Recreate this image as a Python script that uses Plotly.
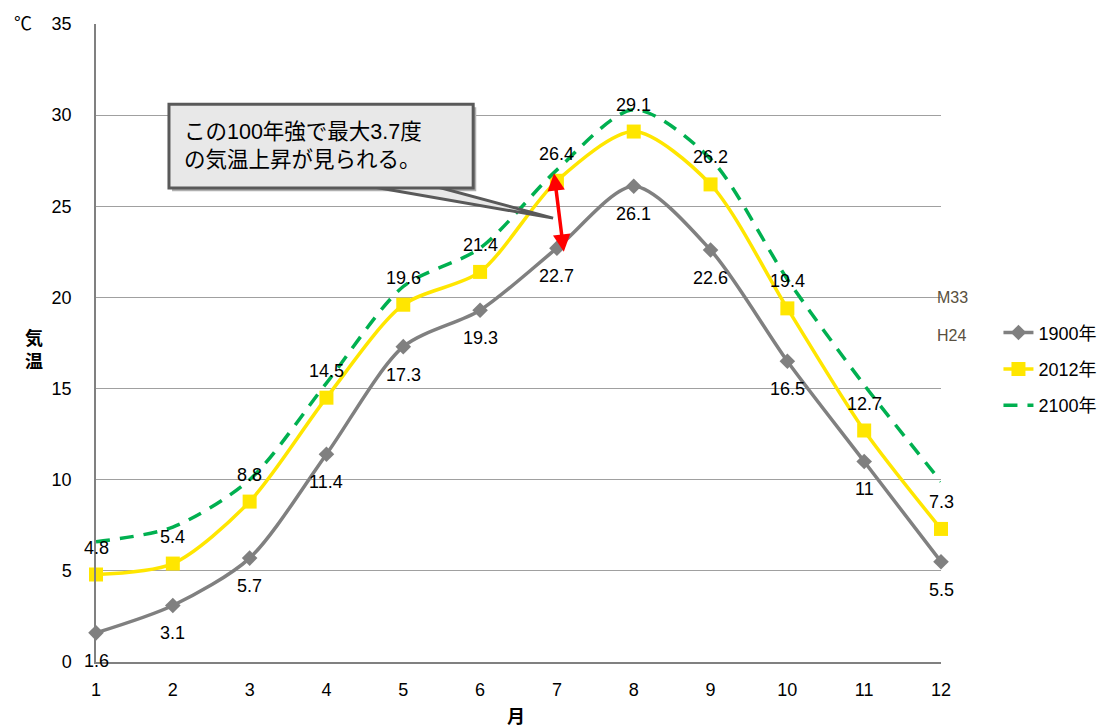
import plotly.graph_objects as go

months = [1, 2, 3, 4, 5, 6, 7, 8, 9, 10, 11, 12]
t1900 = [1.6, 3.1, 5.7, 11.4, 17.3, 19.3, 22.7, 26.1, 22.6, 16.5, 11, 5.5]
t2012 = [4.8, 5.4, 8.8, 14.5, 19.6, 21.4, 26.4, 29.1, 26.2, 19.4, 12.7, 7.3]
t2100 = [6.6, 7.4, 10.0, 15.3, 20.6, 22.7, 27.0, 30.3, 27.6, 21.0, 15.2, 9.9]
y_ticks = [0, 5, 10, 15, 20, 25, 30, 35]

FONT = "Liberation Sans, Arial, Noto Sans CJK JP, sans-serif"

fig = go.Figure()

fig.add_trace(go.Scatter(
    x=months, y=t1900, name="1900年", mode="lines+markers",
    line=dict(color="#808080", width=3.5, shape="spline", smoothing=0.8),
    marker=dict(symbol="diamond", size=12, color="#808080"),
    cliponaxis=False, legendgroup="a",
))
fig.add_trace(go.Scatter(
    x=months, y=t2012, name="2012年", mode="lines+markers",
    line=dict(color="#FFE600", width=3.5, shape="spline", smoothing=0.8),
    marker=dict(symbol="square", size=14, color="#FFE600"),
    cliponaxis=False, legendgroup="b",
))
fig.add_trace(go.Scatter(
    x=months, y=t2100, name="2100年", mode="lines",
    line=dict(color="#00B050", width=3.5, dash="14px,10px", shape="spline", smoothing=0.8),
    cliponaxis=False, legendgroup="c",
))

# data labels
for m, v in zip(months, t1900):
    fig.add_annotation(x=m, y=v, text=str(v), showarrow=False, yshift=-28,
                       xanchor="center", yanchor="middle",
                       font=dict(size=18, color="#000000", family=FONT))
for m, v in zip(months, t2012):
    fig.add_annotation(x=m, y=v, text=str(v), showarrow=False, yshift=27,
                       xanchor="center", yanchor="middle",
                       font=dict(size=18, color="#000000", family=FONT))

# callout: shadow, pointer, box
box_x0, box_x1, box_y0, box_y1 = 1.95, 5.91, 26.0, 30.6
tip_x, tip_y = 6.95, 24.35
fig.add_shape(type="rect", x0=box_x0 + 0.04, x1=box_x1 + 0.04, y0=box_y0 - 0.17, y1=box_y1 - 0.17,
              fillcolor="#b0b0b0", line=dict(width=0), layer="above")
fig.add_shape(type="path",
              path=f"M 4.28 {box_y0 + 0.3} L {tip_x} {tip_y} L 5.23 {box_y0 + 0.3} Z",
              fillcolor="#e8e8e8", line=dict(color="#595959", width=3), layer="above")
fig.add_shape(type="rect", x0=box_x0, x1=box_x1, y0=box_y0, y1=box_y1,
              fillcolor="#e8e8e8", line=dict(color="#595959", width=3), layer="above")
fig.add_annotation(x=box_x0, y=(box_y0 + box_y1) / 2,
                   text="この100年強で最大3.7度<br>の気温上昇が見られる。",
                   showarrow=False, align="left", xanchor="left", yanchor="middle", xshift=13,
                   font=dict(size=21.5, color="#000000", family=FONT))

# red double arrow
fig.add_annotation(x=7.09, y=22.5, ax=6.96, ay=26.9, xref="x", yref="y", axref="x", ayref="y",
                   text="", showarrow=True, arrowhead=2, startarrowhead=2, arrowside="end+start",
                   arrowwidth=3.5, arrowsize=1.0, startarrowsize=1.0, arrowcolor="#FF0000")

# side labels
fig.add_annotation(x=1.0, y=20, xref="paper", yref="y", text="M33", showarrow=False,
                   xanchor="left", xshift=-6, font=dict(size=16, color="#595040", family=FONT))
fig.add_annotation(x=1.0, y=17.9, xref="paper", yref="y", text="H24", showarrow=False,
                   xanchor="left", xshift=-6, font=dict(size=16, color="#595040", family=FONT))

# unit and axis titles
fig.add_annotation(x=0, y=1, xref="paper", yref="paper", text="℃", showarrow=False,
                   xanchor="left", yanchor="middle", xshift=-84, font=dict(size=18, color="#000", family=FONT))
fig.add_annotation(x=0, y=0.5, xref="paper", yref="paper", text="<b>気<br>温</b>", showarrow=False,
                   xanchor="center", yanchor="middle", xshift=-62, yshift=-7,
                   font=dict(size=18, color="#000", family=FONT))
fig.add_annotation(x=0.5, y=0, xref="paper", yref="paper", text="<b>月</b>", showarrow=False,
                   xanchor="center", yanchor="middle", yshift=-55, xshift=-3,
                   font=dict(size=18, color="#000", family=FONT))

fig.update_layout(
    width=1114, height=727,
    margin=dict(l=88, r=181, t=16, b=73, autoexpand=False),
    paper_bgcolor="white", plot_bgcolor="white",
    font=dict(family=FONT, size=18, color="#000000"),
    showlegend=True,
    legend=dict(x=1.068, y=0.545, xanchor="left", yanchor="top", traceorder="grouped",
                tracegroupgap=10, font=dict(size=18), bgcolor="rgba(0,0,0,0)"),
    xaxis=dict(range=[1, 12], tickvals=months, ticktext=[str(m) for m in months],
               showgrid=False, zeroline=False, showline=True, linecolor="#808080", linewidth=2,
               ticks="", ticklabelstandoff=10, automargin=False),
    yaxis=dict(range=[0, 35], tickvals=y_ticks, ticktext=[str(v) for v in y_ticks],
               showgrid=True, gridcolor="#a0a0a0", gridwidth=1.2, zeroline=False,
               showline=True, linecolor="#808080", linewidth=1.5, ticks="", ticklabelstandoff=19,
               automargin=False),
)

fig.write_html("out.html")
